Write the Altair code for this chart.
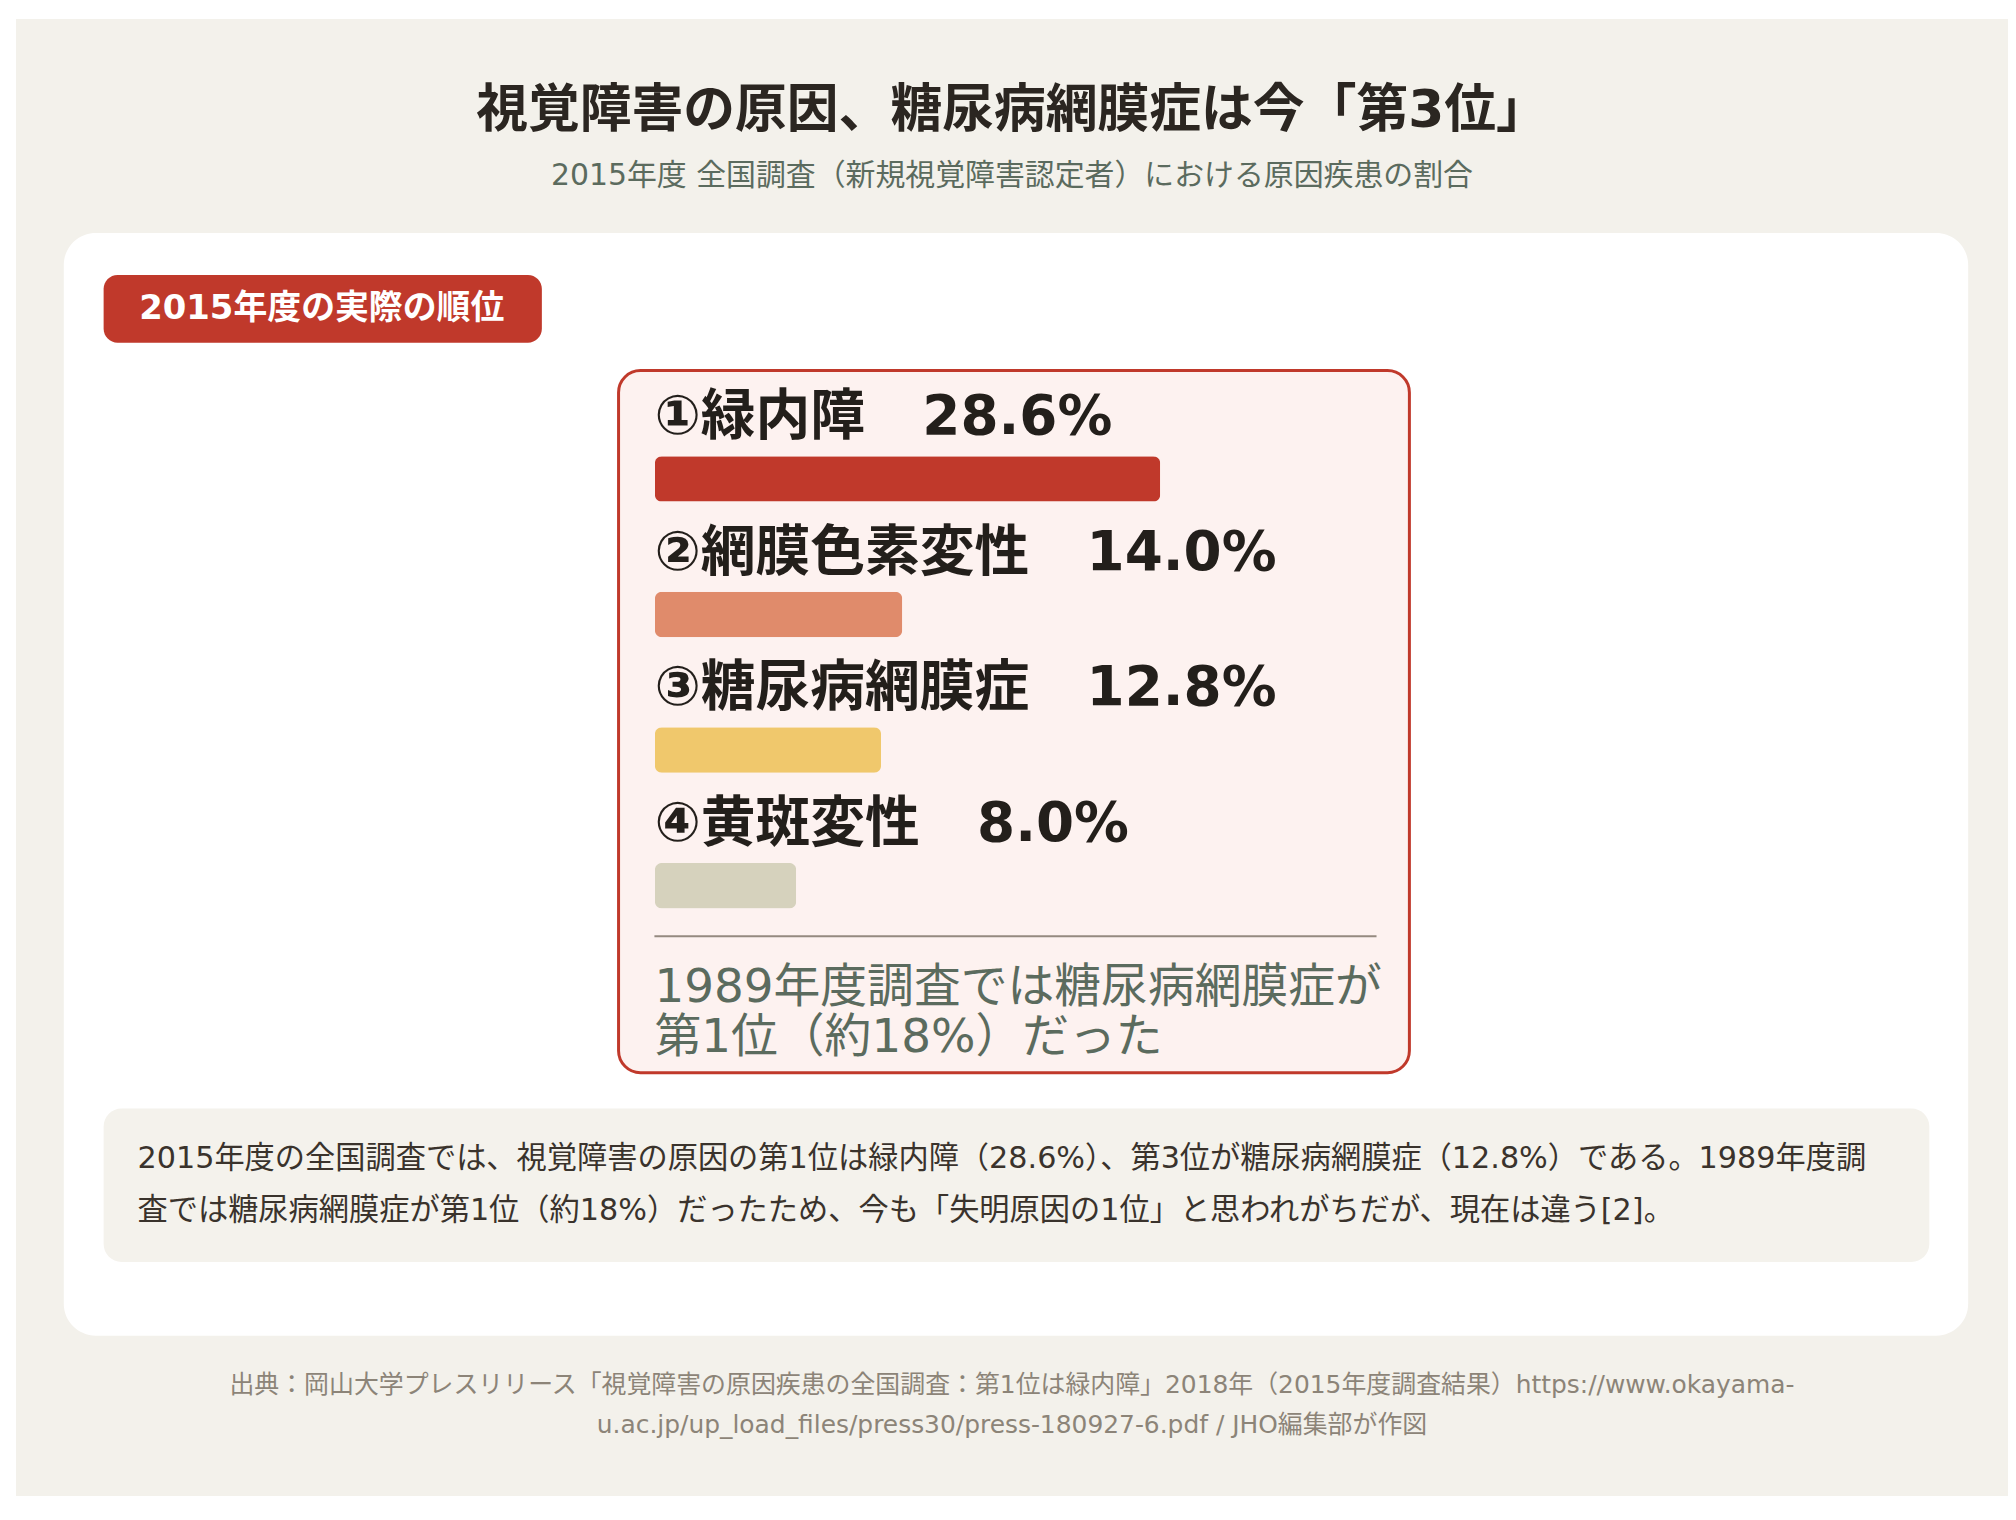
import altair as alt
import pandas as pd

# ---- data ----
ranks = [1, 2, 3, 4]
marks = ["①", "②", "③", "④"]
names = ["緑内障", "網膜色素変性", "糖尿病網膜症", "黄斑変性"]
values = [28.6, 14.0, 12.8, 8.0]
bar_colors = ["#c0392b", "#e08b6b", "#f0c86c", "#d6d2bd"]

title_text = "視覚障害の原因、糖尿病網膜症は今「第3位」"
subtitle_text = "2015年度 全国調査（新規視覚障害認定者）における原因疾患の割合"
badge_text = "2015年度の実際の順位"
note_lines = ["1989年度調査では糖尿病網膜症が", "第1位（約18%）だった"]
para_lines = [
    "2015年度の全国調査では、視覚障害の原因の第1位は緑内障（28.6%）、第3位が糖尿病網膜症（12.8%）である。1989年度調",
    "査では糖尿病網膜症が第1位（約18%）だったため、今も「失明原因の1位」と思われがちだが、現在は違う[2]。",
]
source_lines = [
    "出典：岡山大学プレスリリース「視覚障害の原因疾患の全国調査：第1位は緑内障」2018年（2015年度調査結果）https://www.okayama-",
    "u.ac.jp/up_load_files/press30/press-180927-6.pdf / JHO編集部が作図",
]

SANS = "DejaVu Sans, Noto Sans CJK JP, sans-serif"

df = pd.DataFrame({
    "rank": ranks,
    "name": names,
    "value": values,
    "label": [f"{m}{n}\u00a0\u00a0\u00a0{v:.1f}%" for m, n, v in zip(marks, names, values)],
})

one = pd.DataFrame({"k": [0]})
W, H = 2000, 1483

def box(x, x2, y, y2, fill, r, stroke=None, sw=0):
    kw = dict(fill=fill, cornerRadius=r)
    if stroke:
        kw.update(stroke=stroke, strokeWidth=sw)
    return alt.Chart(one).mark_rect(**kw).encode(
        x=alt.value(x), x2=alt.value(x2), y=alt.value(y), y2=alt.value(y2)
    )

def txt(s, x, y, size, color, weight="normal", align="left", font=SANS):
    return alt.Chart(one).mark_text(
        text=s, fontSize=size, color=color, fontWeight=weight, align=align,
        baseline="middle", font=font
    ).encode(x=alt.value(x), y=alt.value(y))

layers = [
    txt(title_text, 1000, 92, 52, "#2b2621", "bold", "center"),
    txt(subtitle_text, 1000, 158, 30, "#5b6b5e", "normal", "center"),
    box(48, 1960, 215, 1322, "#ffffff", 32),
    box(88, 528, 257, 325, "#c0392b", 14),
    txt(badge_text, 307, 291, 34, "#ffffff", "bold", "center"),
    box(605, 1399, 353, 1058, "#fdf2f0", 22, "#c0392b", 3),
]

yscale = alt.Scale(range=[439, 893], paddingInner=0.665, paddingOuter=0)

bars = alt.Chart(df).mark_bar(cornerRadius=7).encode(
    x=alt.X("value:Q", scale=alt.Scale(domain=[0, 40], range=[641.5, 1351]), axis=None),
    y=alt.Y("rank:O", scale=yscale, axis=None),
    color=alt.Color("name:N", scale=alt.Scale(domain=names, range=bar_colors), legend=None),
)
labels = alt.Chart(df).mark_text(
    align="left", baseline="middle", fontSize=55, fontWeight="bold",
    color="#231f1b", font=SANS, dy=-62
).encode(
    x=alt.value(641),
    y=alt.Y("rank:O", scale=yscale, axis=None),
    text="label:N",
)
layers += [bars, labels]

layers.append(
    alt.Chart(one).mark_rule(color="#958a80", strokeWidth=2).encode(
        x=alt.value(641), x2=alt.value(1366), y=alt.value(921)
    )
)
layers += [
    txt(note_lines[0], 641, 973, 47, "#5b6b5e"),
    txt(note_lines[1], 641, 1023, 47, "#5b6b5e"),
    box(88, 1921, 1094, 1248, "#f4f2ec", 18),
    txt(para_lines[0], 122, 1145, 30.35, "#3a332c"),
    txt(para_lines[1], 122, 1197, 30.35, "#3a332c"),
    txt(source_lines[0], 1000, 1372, 25, "#8c8478", align="center"),
    txt(source_lines[1], 1000, 1412, 25, "#8c8478", align="center"),
]

chart = alt.layer(*layers).properties(
    width=W, height=H,
    padding={"left": 8, "top": 8, "right": 0, "bottom": 0},
    autosize=alt.AutoSizeParams(type="none"),
    background="#ffffff",
).configure_view(fill="#f3f1eb", stroke=None)

chart.save("out.html", embed_options={"renderer": "svg", "actions": False})
